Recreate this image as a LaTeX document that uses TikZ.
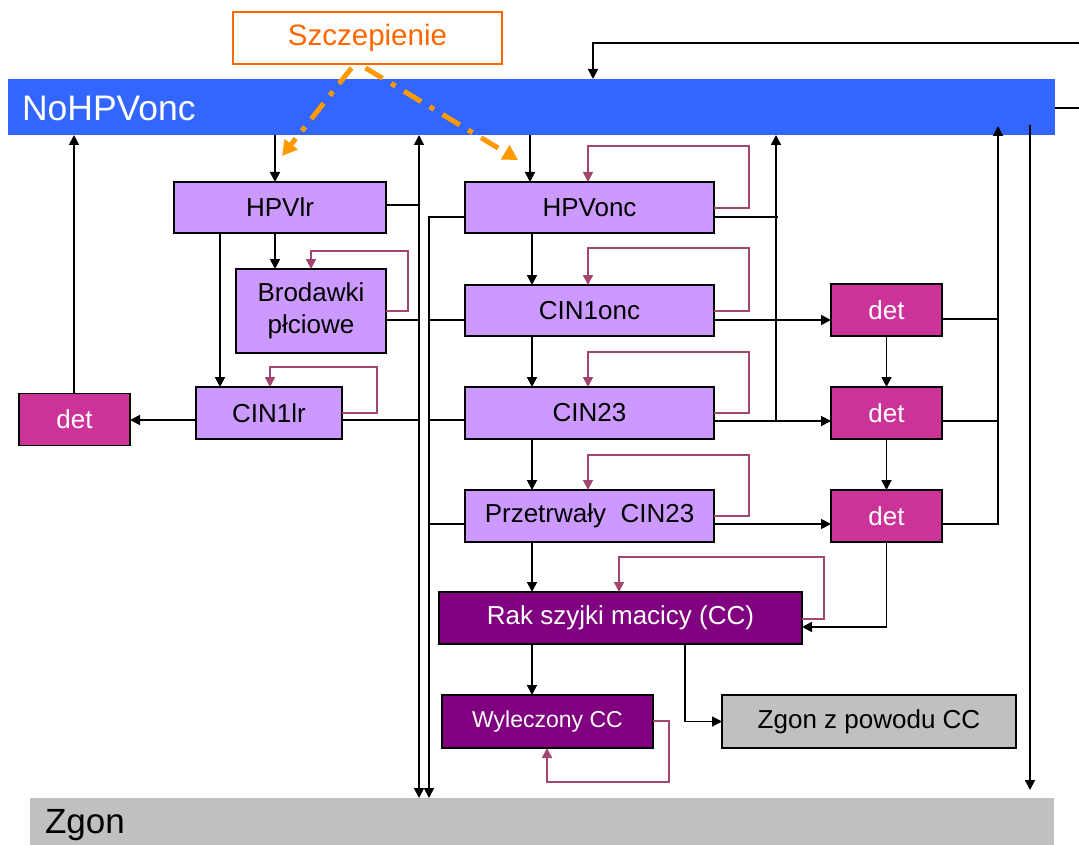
\documentclass[tikz,border=0pt]{standalone}
\usepackage{fontspec}
\setmainfont{Liberation Sans}
\usetikzlibrary{arrows.meta}
\definecolor{lav}{HTML}{CC99FF}
\definecolor{detc}{HTML}{CC3399}
\definecolor{purp}{HTML}{800080}
\definecolor{grayb}{HTML}{C0C0C0}
\definecolor{blueb}{HTML}{3366FF}
\definecolor{loopc}{HTML}{A3466F}
\definecolor{orline}{HTML}{FF9900}
\definecolor{ortext}{HTML}{FF6600}
\begin{document}
\begin{tikzpicture}[x=1pt,y=-1pt,
  every node/.style={inner sep=0pt, outer sep=0pt},
  boxtxt/.style={font=\fontsize{26}{32}\selectfont},
  lavbox/.style={boxtxt, draw=black, line width=1.5pt, fill=lav, text=black, align=center},
  detbox/.style={boxtxt, draw=black, line width=1.5pt, fill=detc, text=white, minimum width=111pt, minimum height=52pt},
  purpbox/.style={boxtxt, draw=black, line width=1.5pt, fill=purp, text=white},
  graybox/.style={boxtxt, draw=black, line width=1.5pt, fill=grayb, text=black},
  ln/.style={draw=black, line width=1.8pt},
  arr/.style={ln, -{Triangle[length=10pt,width=10pt]}},
  arrboth/.style={ln, {Triangle[length=10pt,width=10pt]}-{Triangle[length=10pt,width=10pt]}},
  selfloop/.style={draw=loopc, line width=1.7pt, -{Triangle[length=10pt,width=10pt]}},
  vacc/.style={draw=orline, line width=5pt, dash pattern=on 20pt off 10pt on 5pt off 10pt, -{Triangle[length=15pt,width=16pt]}}
]
\useasboundingbox (0,0) rectangle (1079,845);

% bars
\node[fill=blueb, minimum width=1047pt, minimum height=56pt] (nohpv) at (531.5,107) {};
\node[anchor=west, text=white, font=\fontsize{35.5}{40}\selectfont] (nolabel) at (22,108) {NoHPVonc};
\node[fill=grayb, minimum width=1024pt, minimum height=47pt] (zgon) at (542,821.5) {};
\node[anchor=base west, text=black, font=\fontsize{35}{40}\selectfont] (zlabel) at (45,833) {Zgon};

% vaccination
\node[draw=ortext, line width=1.5pt, fill=white, text=ortext, font=\fontsize{29.5}{34}\selectfont,
      minimum width=269pt, minimum height=52pt] (szc) at (367.5,38) {Szczepienie};
\coordinate (vacL) at (282,156);
\coordinate (vacR) at (518,160);
\draw[vacc] ([xshift=-16pt,yshift=-4pt]szc.south) -- (vacL);
\draw[vacc] ([xshift=-2pt,yshift=-4pt]szc.south) -- (vacR);

% left group
\node[lavbox, minimum width=212pt, minimum height=51pt] (hpvlr) at (280,207.5) {HPVlr};
\node[lavbox, minimum width=150pt, minimum height=84pt] (brod) at (311,311) {Brodawki\\płciowe};
\node[lavbox, minimum width=146pt, minimum height=52pt] (cin1lr) at (269,413) {CIN1lr};
\node[detbox] (detL) at (74.5,419.5) {det};

% onc group
\node[lavbox, minimum width=249pt, minimum height=51pt] (hpvonc) at (589.5,207.5) {HPVonc};
\node[lavbox, minimum width=249pt, minimum height=51pt] (cin1onc) at (589.5,310.5) {CIN1onc};
\node[lavbox, minimum width=249pt, minimum height=52pt] (cin23) at (589.5,413) {CIN23};
\node[lavbox, minimum width=249pt, minimum height=52pt] (przet) at (589.5,516) {Przetrwały\ \ CIN23};
\node[detbox] (det1) at (886.5,310) {det};
\node[detbox] (det2) at (886.5,413) {det};
\node[detbox] (det3) at (886.5,516) {det};
\node[purpbox, minimum width=363pt, minimum height=52pt] (rak) at (620.5,618) {Rak szyjki macicy (CC)};
\node[purpbox, minimum width=211pt, minimum height=53pt, font=\fontsize{23}{28}\selectfont] (wyl) at (547.5,721.5) {Wyleczony CC};
\node[graybox, minimum width=294pt, minimum height=53pt] (zcc) at (869,721.5) {Zgon z powodu CC};

% entries from NoHPVonc
\draw[arr] (275,0 |- nohpv.south) -- (275,0 |- hpvlr.north);
\draw[arr] (530,0 |- nohpv.south) -- (530,0 |- hpvonc.north);

% left group connectors
\draw[arr] (275,0 |- hpvlr.south) -- (275,0 |- brod.north);
\draw[arr] (220,0 |- hpvlr.south) -- (220,0 |- cin1lr.north);
\draw[selfloop] (brod.east |- 0,311) -| (408,251) -| (311,0 |- brod.north);
\draw[selfloop] (cin1lr.east |- 0,413) -| (377,367) -| (270,0 |- cin1lr.north);
\draw[ln] (hpvlr.east |- 0,205) -- (419,205);
\draw[ln] (brod.east |- 0,320) -- (419,320);
\draw[ln] (cin1lr.east |- 0,420) -- (419,420);
\draw[arrboth] (419,0 |- nohpv.south) -- (419,0 |- zgon.north);
\draw[arr] (cin1lr.west |- 0,420) -- (detL.east |- 0,420);
\draw[arr] (74,0 |- detL.north) -- (74,0 |- nohpv.south);

% onc group to Zgon
\draw[arr] (hpvonc.west |- 0,217) -| (429,0 |- zgon.north);
\draw[ln] (cin1onc.west |- 0,320) -- (429,320);
\draw[ln] (cin23.west |- 0,420) -- (429,420);
\draw[ln] (przet.west |- 0,524) -- (429,524);

% progression
\draw[arr] (532,0 |- hpvonc.south) -- (532,0 |- cin1onc.north);
\draw[arr] (532,0 |- cin1onc.south) -- (532,0 |- cin23.north);
\draw[arr] (532,0 |- cin23.south) -- (532,0 |- przet.north);
\draw[arr] (532,0 |- przet.south) -- (532,0 |- rak.north);
\draw[arr] (532,0 |- rak.south) -- (532,0 |- wyl.north);

% self loops onc
\draw[selfloop] (hpvonc.east |- 0,208) -| (749,146) -| (588,0 |- hpvonc.north);
\draw[selfloop] (cin1onc.east |- 0,311) -| (749,248) -| (588,0 |- cin1onc.north);
\draw[selfloop] (cin23.east |- 0,413) -| (749,352) -| (588,0 |- cin23.north);
\draw[selfloop] (przet.east |- 0,516) -| (749,455) -| (588,0 |- przet.north);
\draw[selfloop] (rak.east |- 0,619) -| (824,557) -| (619,0 |- rak.north);
\draw[selfloop] (wyl.east |- 0,721) -| (669,782) -| (547,0 |- wyl.south);

% regression to NoHPVonc
\draw[ln] (hpvonc.east |- 0,217) -- (778,217);
\coordinate (j776) at (776,421);
\draw[arr] (j776) -- (776,0 |- nohpv.south);

% detection
\draw[arr] (cin1onc.east |- 0,320) -- (det1.west |- 0,320);
\draw[arr] (cin23.east |- 0,421) -- (det2.west |- 0,421);
\draw[arr] (przet.east |- 0,524) -- (det3.west |- 0,524);
\draw[arr] (det1.south) -- (det2.north);
\draw[arr] (det2.south) -- (det3.north);
\draw[ln] (det1.east |- 0,319) -- (998,319);
\draw[ln] (det2.east |- 0,421) -- (998,421);
\coordinate (j998) at (998,126);
\draw[arr] (det3.east |- 0,524) -| (j998);
\draw[arr] (det3.south) |- (rak.east |- 0,627);

% cancer outcomes
\draw[arr] (685,0 |- rak.south) |- (zcc.west);

% right side loops
\coordinate (j1030) at (1030,125);
\coordinate (t1030) at (1030,790);
\draw[arr] (j1030) -- (t1030);
\coordinate (offR1) at (1079,43);
\coordinate (offR2) at (1079,108);
\draw[arr] (offR1) -| (593,0 |- nohpv.north);
\draw[ln] (nohpv.east |- 0,108) -- (offR2);
\end{tikzpicture}
\end{document}
